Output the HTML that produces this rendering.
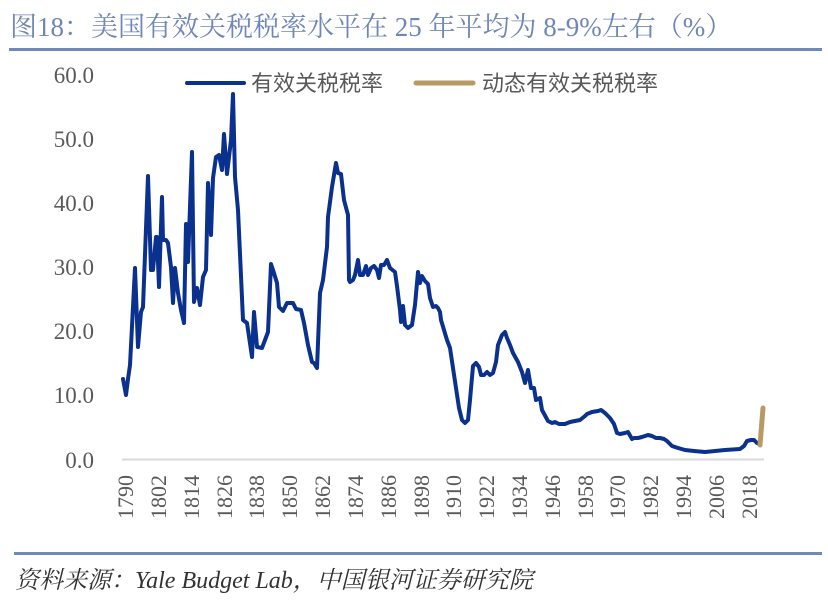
<!DOCTYPE html>
<html><head><meta charset="utf-8"><style>
body{margin:0;background:#fff;width:828px;height:602px;overflow:hidden}
</style></head><body>
<svg width="828" height="602" xmlns="http://www.w3.org/2000/svg" style="position:absolute;left:0;top:0">
<text x="10" y="36" font-family="Liberation Serif, Noto Serif CJK SC, serif" font-size="27" fill="#6f86b8">图18：美国有效关税税率水平在 25 年平均为 8-9%左右（%）</text>
<rect x="9" y="48" width="813" height="3" fill="#7089bb"/>
<g font-family="Liberation Serif, serif" font-size="23" fill="#595959" text-anchor="end">
<text x="94" y="83">60.0</text><text x="94" y="147">50.0</text><text x="94" y="211">40.0</text>
<text x="94" y="275">30.0</text><text x="94" y="339">20.0</text><text x="94" y="403">10.0</text>
<text x="94" y="468">0.0</text>
</g>
<line x1="122" y1="459.5" x2="764" y2="459.5" stroke="#d9d9d9" stroke-width="2"/>
<g font-family="Liberation Serif, serif" font-size="22" fill="#595959" text-anchor="end">
<text transform="translate(133,475) rotate(-90)">1790</text>
<text transform="translate(166,475) rotate(-90)">1802</text>
<text transform="translate(199,475) rotate(-90)">1814</text>
<text transform="translate(232,475) rotate(-90)">1826</text>
<text transform="translate(264,475) rotate(-90)">1838</text>
<text transform="translate(297,475) rotate(-90)">1850</text>
<text transform="translate(330,475) rotate(-90)">1862</text>
<text transform="translate(363,475) rotate(-90)">1874</text>
<text transform="translate(396,475) rotate(-90)">1886</text>
<text transform="translate(429,475) rotate(-90)">1898</text>
<text transform="translate(461,475) rotate(-90)">1910</text>
<text transform="translate(494,475) rotate(-90)">1922</text>
<text transform="translate(527,475) rotate(-90)">1934</text>
<text transform="translate(560,475) rotate(-90)">1946</text>
<text transform="translate(593,475) rotate(-90)">1958</text>
<text transform="translate(625,475) rotate(-90)">1970</text>
<text transform="translate(658,475) rotate(-90)">1982</text>
<text transform="translate(691,475) rotate(-90)">1994</text>
<text transform="translate(724,475) rotate(-90)">2006</text>
<text transform="translate(757,475) rotate(-90)">2018</text>
</g>
<line x1="187" y1="83" x2="244" y2="83" stroke="#0b318f" stroke-width="4" stroke-linecap="round"/>
<text x="251" y="91" font-family="Liberation Sans, Noto Sans CJK SC, sans-serif" font-size="22" fill="#595959">有效关税税率</text>
<line x1="416" y1="83" x2="473" y2="83" stroke="#b99a66" stroke-width="5" stroke-linecap="round"/>
<text x="482" y="91" font-family="Liberation Sans, Noto Sans CJK SC, sans-serif" font-size="22" fill="#595959">动态有效关税税率</text>
<polyline fill="none" stroke="#0b318f" stroke-width="4" stroke-linejoin="round" stroke-linecap="round" points="123,379 126,395 128,379 130,365 135,268 138,347 141,312 143,307 148,176 151,270 153,270 156,237 157,237 159,287 162,197 163,240 166,240 168,243 171,267 173,303 175,268 178,293 181,310 184,323 186,224 188,262 192,152 194,302 197,288 200,305 203,277 206,270 208,183 211,235 213,178 216,157 219,155 222,170 224,134 227,174 231,140 233,94 235,177 238,210 243,320 247,323 252,357 254,312 257,347 262,348 268,332 271,264 273,270 277,283 279,307 283,311 287,303 293,303 296,309 301,310 304,323 308,345 312,362 314,363 317,368 320,293 323,280 327,247 328,217 332,187 336,163 338,173 341,174 344,200 348,215 349,280 350,282 353,280 355,275 358,260 360,275 363,275 366,266 368,275 371,268 374,266 377,270 379,278 381,265 384,265 387,260 390,268 395,272 397,286 400,310 401,322 403,306 405,325 408,328 412,325 415,305 418,272 420,283 422,276 425,281 428,284 430,298 433,307 436,306 438,308 440,312 441,320 444,330 447,340 450,348 453,368 456,388 459,408 462,420 465,423 468,420 470,400 473,366 476,363 479,367 481,375 484,375 487,372 490,375 493,373 496,362 498,345 502,335 505,332 507,338 510,345 513,353 518,362 522,372 525,383 528,370 531,388 534,388 536,400 540,398 542,410 548,421 552,423 555,422 559,424 565,424 570,422 575,421 580,420 585,416 587,414 592,412 598,411 601,410 605,413 610,418 614,424 617,433 620,434 625,433 628,432 632,439 634,438 638,438 642,437 648,435 652,436 656,438 660,438 664,439 667,441 672,446 678,448 685,450 694,451 705,452 715,451 725,450 740,449 744,446 747,441 751,440 754,440 757,443 759,444"/>
<polyline fill="none" stroke="#b99a66" stroke-width="5" stroke-linecap="round" points="760,445 763,408"/>
<rect x="14" y="552" width="808" height="3" fill="#7089bb"/>
<text x="15" y="588" font-family="Liberation Serif, Noto Serif CJK SC, serif" font-style="italic" font-size="24" fill="#333">资料来源：Yale Budget Lab，中国银河证券研究院</text>
</svg>
</body></html>
